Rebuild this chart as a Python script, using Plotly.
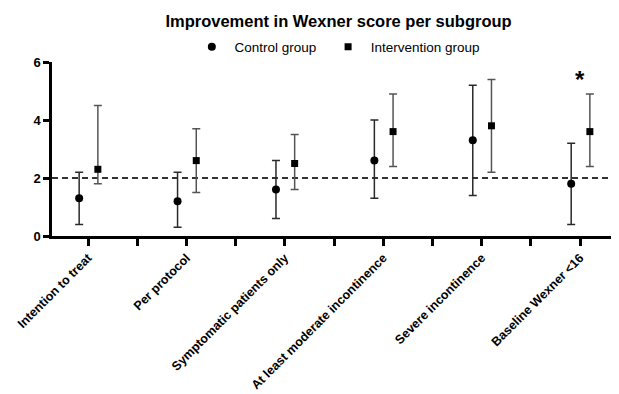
import plotly.graph_objects as go

categories = ["Intention to treat", "Per protocol", "Symptomatic patients only",
              "At least moderate incontinence", "Severe incontinence", "Baseline Wexner <16"]
control_mean = [1.3, 1.2, 1.6, 2.6, 3.3, 1.8]
control_low = [0.4, 0.3, 0.6, 1.3, 1.4, 0.4]
control_high = [2.2, 2.2, 2.6, 4.0, 5.2, 3.2]
interv_mean = [2.3, 2.6, 2.5, 3.6, 3.8, 3.6]
interv_low = [1.8, 1.5, 1.6, 2.4, 2.2, 2.4]
interv_high = [4.5, 3.7, 3.5, 4.9, 5.4, 4.9]
threshold = 2
significant = [False, False, False, False, False, True]

pos = list(range(len(categories)))
ctrl_x = [p - 0.09 for p in pos]
int_x = [p + 0.1 for p in pos]

# page body has an 8px default margin; figure sized to fill the rest of the window
W, H = 611, 386

fig = go.Figure()
fig.add_trace(go.Scatter(
    x=ctrl_x, y=control_mean, mode="markers", name="\u2009Control group\u2002",
    marker=dict(symbol="circle", size=8, color="black"),
    error_y=dict(type="data", symmetric=False,
                 array=[h - m for h, m in zip(control_high, control_mean)],
                 arrayminus=[m - l for m, l in zip(control_mean, control_low)],
                 color="#2a2a2a", thickness=1.5, width=4),
))
fig.add_trace(go.Scatter(
    x=int_x, y=interv_mean, mode="markers", name="\u2009Intervention group",
    marker=dict(symbol="square", size=7, color="black"),
    error_y=dict(type="data", symmetric=False,
                 array=[h - m for h, m in zip(interv_high, interv_mean)],
                 arrayminus=[m - l for m, l in zip(interv_mean, interv_low)],
                 color="#555555", thickness=1.5, width=4),
))

fig.add_shape(type="line", xref="paper", x0=0, x1=1, yref="y", y0=threshold, y1=threshold,
              line=dict(color="#333333", width=2, dash="6px,4px"), layer="below")

for p, s in zip(pos, significant):
    if s:
        fig.add_annotation(x=p, y=5.52, text="<b>*</b>", showarrow=False,
                           font=dict(size=24, color="black", family="Liberation Sans, Arial"),
                           yanchor="middle", yshift=-4)

fig.update_layout(
    width=W, height=H,
    margin=dict(l=44, r=0, t=54, b=158, autoexpand=False),
    paper_bgcolor="white", plot_bgcolor="white",
    font=dict(family="Liberation Sans, Arial, sans-serif", color="black"),
    title=dict(text="<b>Improvement in Wexner score per subgroup</b>",
               x=0.541, xanchor="center", yref="container", y=1 - 13 / H, yanchor="middle",
               font=dict(size=16.5, color="black")),
    legend=dict(orientation="h", x=0.505, xanchor="center", yref="container",
                y=1 - 39 / H, yanchor="middle",
                font=dict(size=13.5), itemwidth=30, bgcolor="rgba(0,0,0,0)"),
    showlegend=True,
    xaxis=dict(range=[-0.366, 5.396], tickvals=pos, ticktext=categories, automargin=False,
               tickangle=-45, ticks="outside", ticklen=7, tickwidth=2.5, tickcolor="black",
               showline=True, linecolor="black", linewidth=2.5, showgrid=False, zeroline=False,
               tickfont=dict(size=12.5, weight="bold", color="black"),
               minor=dict(tickvals=[p + 0.5 for p in pos[:-1]], ticks="outside", ticklen=7,
                          tickwidth=2.5, tickcolor="black", showgrid=False)),
    yaxis=dict(range=[0, 6], tickvals=[0, 2, 4, 6], ticks="outside", ticklen=6, tickwidth=2.5,
               tickcolor="black", showline=True, linecolor="black", linewidth=2.5,
               showgrid=False, zeroline=False, automargin=False,
               tickfont=dict(size=13, weight="bold", color="black")),
)

fig.write_html("out.html")
